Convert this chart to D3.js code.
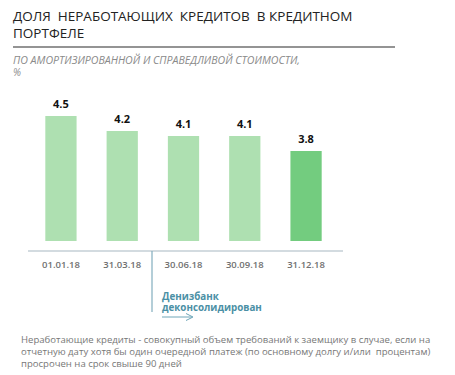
<!DOCTYPE html>
<html>
<head>
<meta charset="utf-8">
<script src="https://cdn.jsdelivr.net/npm/d3@7"></script>
<style>
body { margin: 0; background: #fff; }
text { font-family: "Open Sans", "Noto Sans", sans-serif; }
</style>
</head>
<body>
<script>
// data
var dates = ["01.01.18", "31.03.18", "30.06.18", "30.09.18", "31.12.18"];
var npl = [4.5, 4.2, 4.1, 4.1, 3.8];
var barColors = ["#aee0b1", "#aee0b1", "#aee0b1", "#aee0b1", "#73cc7f"];
var footLines = [
  "Неработающие кредиты - совокупный объем требований к заемщику в случае, если на",
  "отчетную дату хотя бы один очередной платеж (по основному долгу и/или  процентам)",
  "просрочен на срок свыше 90 дней"
];

var svg = d3.select("body").append("svg")
  .attr("width", 455)
  .attr("height", 375);

// title
svg.append("text").attr("x", 13).attr("y", 21)
  .attr("font-size", "13.5px").attr("fill", "#222")
  .attr("xml:space", "preserve")
  .text("ДОЛЯ  НЕРАБОТАЮЩИХ  КРЕДИТОВ  В КРЕДИТНОМ");
svg.append("text").attr("x", 13).attr("y", 38)
  .attr("font-size", "13.5px").attr("fill", "#222")
  .text("ПОРТФЕЛЕ");
svg.append("line")
  .attr("x1", 13).attr("x2", 395).attr("y1", 47).attr("y2", 47)
  .attr("stroke", "#707070").attr("stroke-width", 1.5);

svg.append("text").attr("x", 13).attr("y", 64)
  .attr("font-size", "10.6px").attr("font-style", "italic").attr("fill", "#8a8a8a")
  .text("ПО АМОРТИЗИРОВАННОЙ И СПРАВЕДЛИВОЙ СТОИМОСТИ,");
svg.append("text").attr("x", 13).attr("y", 76)
  .attr("font-size", "10px").attr("font-style", "italic").attr("fill", "#8a8a8a")
  .text("%");

// scales
var x = d3.scaleBand().domain(dates).range([30, 337]).paddingInner(0.49).paddingOuter(0.25);
var y = d3.scaleLinear().domain([2.0, 4.5]).range([241, 116]);

svg.selectAll(".bar")
  .data(npl)
  .enter()
  .append("rect")
  .attr("class", "bar")
  .attr("x", function(d, i) { return x(dates[i]); })
  .attr("width", x.bandwidth())
  .attr("y", function(d) { return y(d); })
  .attr("height", function(d) { return y(2.0) - y(d); })
  .attr("fill", function(d, i) { return barColors[i]; });

svg.selectAll(".val")
  .data(npl)
  .enter()
  .append("text")
  .attr("class", "val")
  .attr("x", function(d, i) { return x(dates[i]) + x.bandwidth() / 2; })
  .attr("y", function(d) { return y(d) - 8; })
  .attr("text-anchor", "middle")
  .attr("font-size", "11px").attr("font-weight", "bold").attr("fill", "#111")
  .text(function(d) { return d.toFixed(1); });

// axis
var axis = svg.append("g")
  .attr("transform", "translate(0,251)")
  .call(d3.axisBottom(x).tickSize(0).tickPadding(10));
axis.select(".domain").attr("d", "M28,0H343").attr("stroke", "#a7b7c2").attr("stroke-width", 1.2);
axis.selectAll("text")
  .attr("font-size", "9.5px").attr("font-weight", "600").attr("fill", "#707070")
  .attr("font-family", "\"Open Sans\", sans-serif");

// annotation
svg.append("line")
  .attr("x1", 152).attr("x2", 152).attr("y1", 251).attr("y2", 312)
  .attr("stroke", "#82aebe").attr("stroke-width", 1.2);
svg.append("text").attr("x", 162).attr("y", 300)
  .attr("font-size", "9.8px").attr("font-weight", "bold").attr("fill", "#4b90a5")
  .text("Денизбанк");
svg.append("text").attr("x", 162).attr("y", 311)
  .attr("font-size", "9.8px").attr("font-weight", "bold").attr("fill", "#4b90a5")
  .text("деконсолидирован");
svg.append("path")
  .attr("d", "M162,317H192M186,313.5L193,317L186,320.5")
  .attr("fill", "none").attr("stroke", "#6ea6b8").attr("stroke-width", 1);

// footnote
svg.selectAll(".foot")
  .data(footLines)
  .enter()
  .append("text")
  .attr("class", "foot")
  .attr("x", 21)
  .attr("y", function(d, i) { return 342.5 + i * 12; })
  .attr("font-size", "9.55px").attr("fill", "#777")
  .attr("xml:space", "preserve")
  .text(function(d) { return d; });
</script>
</body>
</html>
